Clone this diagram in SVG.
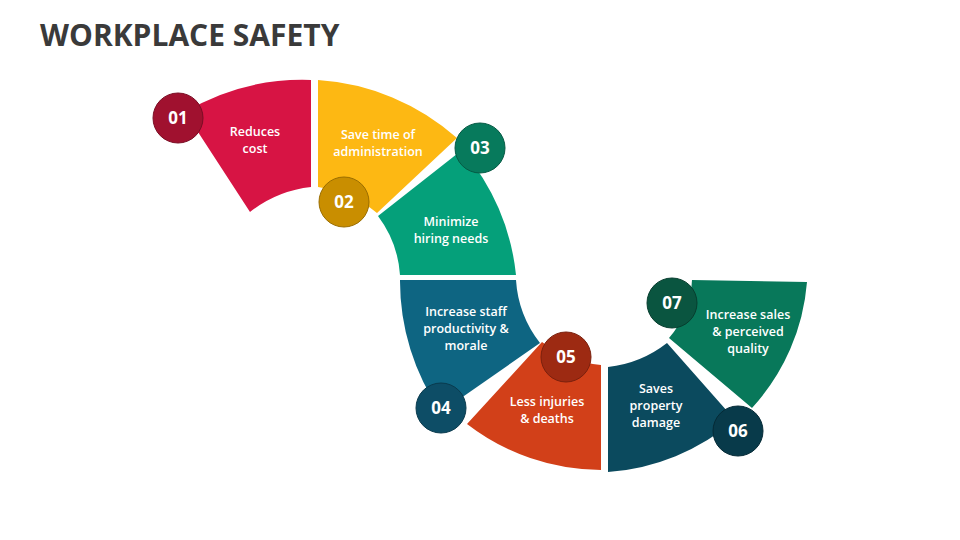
<svg xmlns="http://www.w3.org/2000/svg" width="960" height="540" viewBox="0 0 960 540">
<style>
.t{font-family:"Open Sans","Liberation Sans",sans-serif;font-size:12.5px;font-weight:600;fill:#fff;text-anchor:middle}
.n{font-family:"Open Sans","Liberation Sans",sans-serif;font-size:17px;font-weight:700;fill:#fff;text-anchor:middle}
circle{stroke-width:1}
</style>
<rect width="960" height="540" fill="#fff"/>
<text x="40" y="46" font-family="Open Sans, Liberation Sans, sans-serif" font-size="30" font-weight="700" fill="#3A3A3A">WORKPLACE SAFETY</text>
<g id="connectors"></g>
<g id="seg1">
<path d="M185,112 A232,232 0 0 1 311,80 L311,187 A120,120 0 0 0 250,212 Z" fill="#D71444"/>
<circle cx="178" cy="118" r="25" fill="#A0112F" stroke="#7a0d24"/>
<text class="n" x="178" y="124">01</text>
<text class="t" x="255" y="136">Reduces</text><text class="t" x="255" y="153">cost</text>
</g>
<g id="seg2">
<path d="M318,80 A232,232 0 0 1 457,138 L377,213 A120,120 0 0 0 318,187 Z" fill="#FDB813"/>
<circle cx="344" cy="202" r="25" fill="#C98E00" stroke="#9a6d00"/>
<text class="n" x="344" y="208">02</text>
<text class="t" x="378" y="139">Save time of</text><text class="t" x="378" y="156">administration</text>
</g>
<g id="seg3">
<path d="M462,150 A226,226 0 0 1 516,275 L400,275 A110,110 0 0 0 378,216 Z" fill="#05A07A"/>
<circle cx="480" cy="148" r="25" fill="#077A5C" stroke="#055a44"/>
<text class="n" x="480" y="154">03</text>
<text class="t" x="451" y="226">Minimize</text><text class="t" x="451" y="243">hiring needs</text>
</g>
<g id="seg4">
<path d="M400,280 L516,280 A114,114 0 0 0 540,343 L441,412 A230,230 0 0 1 400,280 Z" fill="#0E6582"/>
<circle cx="441" cy="408" r="25" fill="#0D4D66" stroke="#093a4d"/>
<text class="n" x="441" y="414">04</text>
<text class="t" x="466" y="316">Increase staff</text><text class="t" x="466" y="333">productivity &amp;</text><text class="t" x="466" y="350">morale</text>
</g>
<g id="seg5">
<path d="M542,342 A115,115 0 0 0 601,365 L601,470 A220,220 0 0 1 467,424 Z" fill="#D24019"/>
<circle cx="566" cy="357" r="25" fill="#9D2A12" stroke="#7a200d"/>
<text class="n" x="566" y="363">05</text>
<text class="t" x="547" y="406">Less injuries</text><text class="t" x="547" y="423">&amp; deaths</text>
</g>
<g id="seg6">
<path d="M608,367 A117,117 0 0 0 667,343 L735,420 A220,220 0 0 1 608,472 Z" fill="#0B4A5E"/>
<circle cx="738" cy="431" r="25" fill="#083A4A" stroke="#052a36"/>
<text class="n" x="738" y="437">06</text>
<text class="t" x="656" y="393">Saves</text><text class="t" x="656" y="410">property</text><text class="t" x="656" y="427">damage</text>
</g>
<g id="seg7">
<path d="M692,280 L807,282 A211,211 0 0 1 752,408 L669,338 A95,95 0 0 0 692,280 Z" fill="#08785A"/>
<circle cx="672" cy="303" r="25" fill="#0A5540" stroke="#073d2e"/>
<text class="n" x="672" y="309">07</text>
<text class="t" x="748" y="319">Increase sales</text><text class="t" x="748" y="336">&amp; perceived</text><text class="t" x="748" y="353">quality</text>
</g>
</svg>
